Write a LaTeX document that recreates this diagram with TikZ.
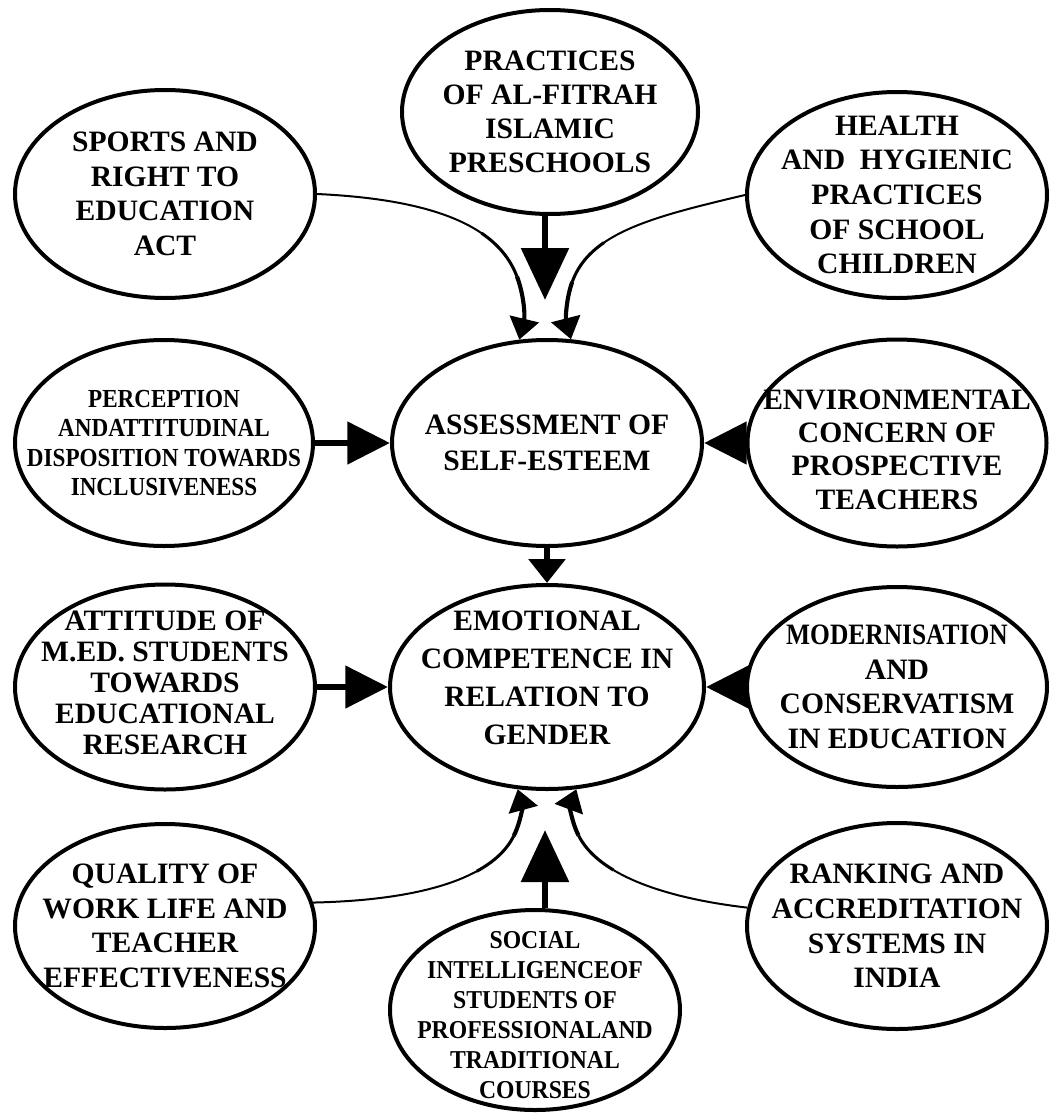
\documentclass[tikz,border=0pt]{standalone}
\usepackage{fontspec}
\setmainfont{Liberation Serif}
\newfontfamily\condA[FakeStretch=0.89]{Liberation Serif}
\newfontfamily\condB[FakeStretch=0.92]{Liberation Serif}
\newfontfamily\condC[FakeStretch=0.86]{Liberation Serif}
\usetikzlibrary{shapes.geometric,arrows.meta}
\begin{document}
\begin{tikzpicture}[x=0.75pt,y=-0.75pt,
  ell/.style={ellipse, draw, line width=3pt, inner sep=0pt},
  sz/.style 2 args={minimum width=#1*0.75pt, minimum height=#2*0.75pt},
  txt/.style={align=center, inner sep=0pt},
  bigarrow/.style={line width=5.2pt, -{Triangle[length=39pt,width=35pt]}},
  sidearrow/.style={line width=5.2pt, -{Triangle[length=32pt,width=31pt]}},
  midarrow/.style={line width=5.2pt, -{Triangle[length=18pt,width=27pt]}},
  ca/.style={line width=1.5pt},
  cb/.style={line width=2.3pt},
  cc/.style={line width=3.1pt, -{Triangle[length=16pt,width=22pt]}}
]
\path[use as bounding box, fill=white] (0,0) rectangle (1058,1113);

% ellipses
\node[ell, sz={296}{204}] (e1) at (550,112) {};
\node[ell, sz={300}{208}] (e2) at (165,194) {};
\node[ell, sz={300}{206}] (e3) at (897,195) {};
\node[ell, sz={310}{206}] (e4) at (547,443) {};
\node[ell, sz={298}{206}] (e5) at (164,443) {};
\node[ell, sz={299}{207}] (e6) at (897,443) {};
\node[ell, sz={314}{204}] (e7) at (547,687) {};
\node[ell, sz={300}{205}] (e8) at (165,687) {};
\node[ell, sz={300}{200}] (e9) at (897,687) {};
\node[ell, sz={300}{204}] (e10) at (165,926) {};
\node[ell, sz={290}{200}] (e11) at (535,1010) {};
\node[ell, sz={300}{206}] (e12) at (897,926) {};

% texts
\node[txt, font=\fontsize{22.2}{25.5}\selectfont\bfseries] (t1) at (e1.center) {PRACTICES\\OF AL-FITRAH\\ISLAMIC\\PRESCHOOLS};
\node[txt, font=\fontsize{22.2}{26}\selectfont\bfseries] (t2) at (e2.center) {SPORTS AND\\RIGHT TO\\EDUCATION\\ACT};
\node[txt, font=\fontsize{22.2}{26}\selectfont\bfseries] (t3) at (e3.center) {HEALTH\\AND~~HYGIENIC\\PRACTICES\\OF SCHOOL\\CHILDREN};
\node[txt, font=\fontsize{22.2}{27}\selectfont\bfseries] (t4) at (e4.center) {ASSESSMENT OF\\SELF-ESTEEM};
\node[txt, font=\condA\fontsize{19.5}{22}\selectfont\bfseries] (t5) at (e5.center) {PERCEPTION\\ANDATTITUDINAL\\DISPOSITION TOWARDS\\INCLUSIVENESS};
\node[txt, font=\fontsize{22.2}{25}\selectfont\bfseries, yshift=-5pt] (t6) at (e6.center) {ENVIRONMENTAL\\CONCERN OF\\PROSPECTIVE\\TEACHERS};
\node[txt, font=\fontsize{22.2}{28.5}\selectfont\bfseries, yshift=6.75pt] (t7) at (e7.center) {EMOTIONAL\\COMPETENCE IN\\RELATION TO\\GENDER};
\node[txt, font=\fontsize{22.2}{23.25}\selectfont\bfseries, yshift=3pt] (t8) at (e8.center) {ATTITUDE OF\\M.ED. STUDENTS\\TOWARDS\\EDUCATIONAL\\RESEARCH};
\node[txt, font=\fontsize{22.2}{26}\selectfont\bfseries] (t9) at (e9.center) {{\condC MODERNISATION}\\AND\\CONSERVATISM\\IN EDUCATION};
\node[txt, font=\fontsize{22.2}{26}\selectfont\bfseries] (t10) at (e10.center) {QUALITY OF\\WORK LIFE AND\\TEACHER\\EFFECTIVENESS};
\node[txt, font=\condB\fontsize{19.3}{22.5}\selectfont\bfseries, yshift=-3.75pt] (t11) at (e11.center) {SOCIAL\\INTELLIGENCEOF\\STUDENTS OF\\PROFESSIONALAND\\TRADITIONAL\\COURSES};
\node[txt, font=\fontsize{22.2}{26}\selectfont\bfseries] (t12) at (e12.center) {RANKING AND\\ACCREDITATION\\SYSTEMS IN\\INDIA};

% straight arrows
\coordinate (tipA) at (545,300);
\coordinate (tipB) at (545,830);
\draw[bigarrow] (tipA |- e1.south) -- (tipA);
\draw[bigarrow] (tipB |- e11.north) -- (tipB);
\draw[midarrow] (e4.south) -- (e7.north);
\draw[sidearrow] (e5.east) -- (e4.west);
\draw[sidearrow] (e6.west) -- (e4.east);
\draw[sidearrow] (e8.east) -- (e7.west);
\draw[sidearrow] (e9.west) -- (e7.east);

% curved connectors (tapering)
% top left
\coordinate (la) at (481.5,233.125);
\coordinate (lb) at (516.94,276.48);
\draw[ca] (e2.east) .. controls (392.5,197.5) and (447.5,210) .. (la);
\draw[cb] (la) .. controls (498.5,244.69) and (510.25,258.9) .. (lb);
\draw[cc] (lb) .. controls (523.625,294.06) and (525.25,315) .. (e4.105);
% top right
\coordinate (ra) at (604.125,242.5);
\coordinate (rb) at (572.2,281.94);
\draw[ca] (e3.west) .. controls (683.5,209.5) and (634.75,221.5) .. (ra);
\draw[cb] (ra) .. controls (588.81,253) and (578.03,265.75) .. (rb);
\draw[cc] (rb) .. controls (566.375,298.125) and (565.5,317.75) .. (e4.77);
% bottom left
\coordinate (ba) at (476.75,871.25);
\coordinate (bb) at (513.78,835.91);
\draw[ca] (e10.9) .. controls (385.5,901) and (441.5,890.5) .. (ba);
\draw[cb] (ba) .. controls (494.375,861.625) and (506.81,849.81) .. (bb);
\draw[cc] (bb) .. controls (520.75,822) and (522.25,806) .. (e7.254);
% bottom right
\coordinate (da) at (613.625,870.125);
\coordinate (db) at (578.42,835.3);
\draw[ca] (e12.173) .. controls (694.5,901.5) and (646,889.5) .. (da);
\draw[cb] (da) .. controls (597.44,860.44) and (585.28,848.91) .. (db);
\draw[cc] (db) .. controls (571.56,821.69) and (570,806) .. (e7.286);
\end{tikzpicture}
\end{document}
